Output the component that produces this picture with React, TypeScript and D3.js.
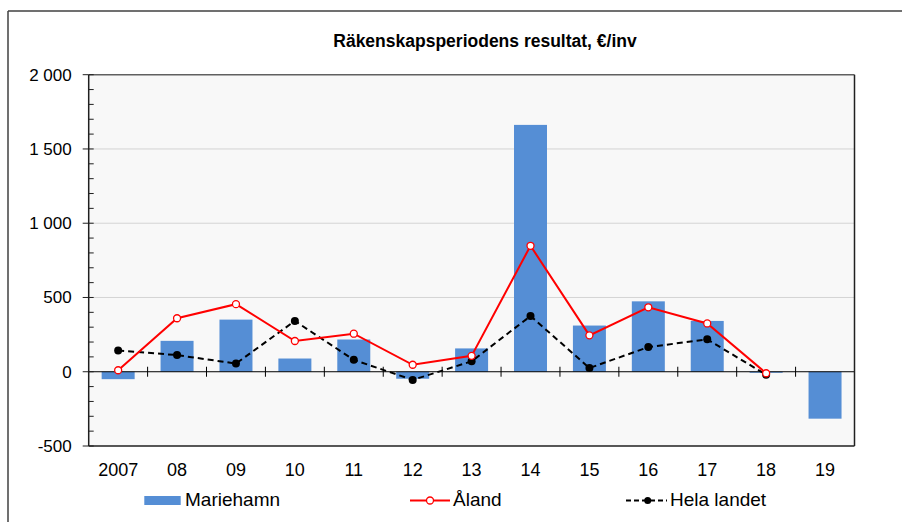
import React from "react";
import * as d3 from "d3";

const categories = ["2007", "08", "09", "10", "11", "12", "13", "14", "15", "16", "17", "18", "19"];
const mariehamn = [-50, 208, 351, 89, 217, -47, 157, 1662, 311, 474, 342, -7, -316];
const aland: (number | null)[] = [10, 360, 455, 207, 256, 47, 107, 848, 245, 434, 325, -10, null];
const helaLandet: (number | null)[] = [143, 112, 55, 342, 80, -55, 70, 375, 25, 166, 218, -20, null];
const yTicks = [-500, 0, 500, 1000, 1500, 2000];
const yMinorTicks = d3.range(-500, 2001, 100);
const title = "Räkenskapsperiodens resultat, €/inv";

const fmt = (v: number) => {
  const s = Math.abs(v).toString();
  const withSpace = s.length > 3 ? s.slice(0, s.length - 3) + " " + s.slice(s.length - 3) : s;
  return (v < 0 ? "-" : "") + withSpace;
};

export default function App() {
  const W = 902, H = 522;
  const left = 88.7, right = 854.5, top = 74.7, bottom = 446;
  const x = d3.scaleBand<string>().domain(categories).range([left, right]).paddingInner(0.44).paddingOuter(0.22);
  const step = (right - left) / categories.length;
  const y = d3.scaleLinear().domain([-500, 2000]).range([bottom, top]);
  const cx = (c: string) => (x(c) as number) + x.bandwidth() / 2;
  const font = "Arial, 'Liberation Sans', sans-serif";

  const lineGen = d3
    .line<number | null>()
    .defined((d) => d !== null)
    .x((_, i) => cx(categories[i]))
    .y((d) => y(d as number));

  return (
    <svg width={W} height={H} style={{ position: "absolute", left: 0, top: 0 }} fontFamily={font}>
      <rect x={0} y={0} width={W} height={H} fill="#ffffff" />
      {/* outer frame */}
      <line x1={8} y1={11} x2={W} y2={11} stroke="#707070" strokeWidth={2} />
      <line x1={8} y1={11} x2={8} y2={H} stroke="#404040" strokeWidth={1.5} />
      <text x={485} y={47} textAnchor="middle" fontSize={17.5} fontWeight="bold" fill="#000">
        {title}
      </text>
      {/* plot area */}
      <rect x={left} y={top} width={right - left} height={bottom - top} fill="#f8f8f8" />
      {yTicks
        .filter((t) => t > 0 && t < 2000)
        .map((t) => (
          <line key={"g" + t} x1={left} x2={right} y1={y(t)} y2={y(t)} stroke="#d4d4d4" strokeWidth={1} />
        ))}
      {/* bars */}
      {mariehamn.map((v, i) => (
        <rect
          key={"b" + i}
          x={x(categories[i])}
          width={x.bandwidth()}
          y={Math.min(y(v), y(0))}
          height={Math.abs(y(v) - y(0))}
          fill="#558ed5"
        />
      ))}
      {/* zero line */}
      <line x1={left} x2={right} y1={y(0)} y2={y(0)} stroke="#000" strokeWidth={1} />
      {categories.slice(1).map((c, i) => {
        const xx = left + step * (i + 1);
        return <line key={"xt" + i} x1={xx} x2={xx} y1={y(0) - 5} y2={y(0) + 5} stroke="#000" strokeWidth={1} />;
      })}
      {/* plot border */}
      <line x1={left} x2={right} y1={top} y2={top} stroke="#606060" strokeWidth={1.5} />
      <line x1={right} x2={right} y1={top} y2={bottom} stroke="#202020" strokeWidth={1.5} />
      <line x1={left} x2={right} y1={bottom} y2={bottom} stroke="#202020" strokeWidth={1.5} />
      <line x1={left} x2={left} y1={top} y2={bottom} stroke="#202020" strokeWidth={1.5} />
      {/* y ticks */}
      {yMinorTicks.map((t) => (
        <line key={"m" + t} x1={left} x2={left + 5} y1={y(t)} y2={y(t)} stroke="#202020" strokeWidth={1} />
      ))}
      {yTicks.map((t) => (
        <g key={"yt" + t}>
          <line x1={left - 6} x2={left} y1={y(t)} y2={y(t)} stroke="#202020" strokeWidth={1} />
          <text x={71.7} y={y(t) + 6} textAnchor="end" fontSize={17} fill="#000">
            {fmt(t)}
          </text>
        </g>
      ))}
      {/* x labels */}
      {categories.map((c) => (
        <text key={"xl" + c} x={cx(c)} y={476} textAnchor="middle" fontSize={18} fill="#000">
          {c}
        </text>
      ))}
      {/* Hela landet */}
      <path d={lineGen(helaLandet) || ""} fill="none" stroke="#000" strokeWidth={2} strokeDasharray="6,4" />
      {helaLandet.map((v, i) =>
        v === null ? null : <circle key={"h" + i} cx={cx(categories[i])} cy={y(v)} r={4} fill="#000" />
      )}
      {/* Åland */}
      <path d={lineGen(aland) || ""} fill="none" stroke="#ff0000" strokeWidth={2} />
      {aland.map((v, i) =>
        v === null ? null : (
          <circle key={"a" + i} cx={cx(categories[i])} cy={y(v)} r={3.5} fill="#fff" stroke="#ff0000" strokeWidth={1.3} />
        )
      )}
      {/* legend */}
      <rect x={144.3} y={496} width={36.4} height={9} fill="#558ed5" />
      <text x={185} y={506} fontSize={19} fill="#000">Mariehamn</text>
      <line x1={410} x2={450} y1={500.5} y2={500.5} stroke="#ff0000" strokeWidth={2} />
      <circle cx={430} cy={500.5} r={3.5} fill="#fff" stroke="#ff0000" strokeWidth={1.3} />
      <text x={453} y={506} fontSize={19} fill="#000">Åland</text>
      <line x1={626} x2={667} y1={500.5} y2={500.5} stroke="#000" strokeWidth={2} strokeDasharray="5,3" />
      <circle cx={647.7} cy={500.5} r={3.5} fill="#000" />
      <text x={670} y={506} fontSize={19} fill="#000">Hela landet</text>
    </svg>
  );
}
